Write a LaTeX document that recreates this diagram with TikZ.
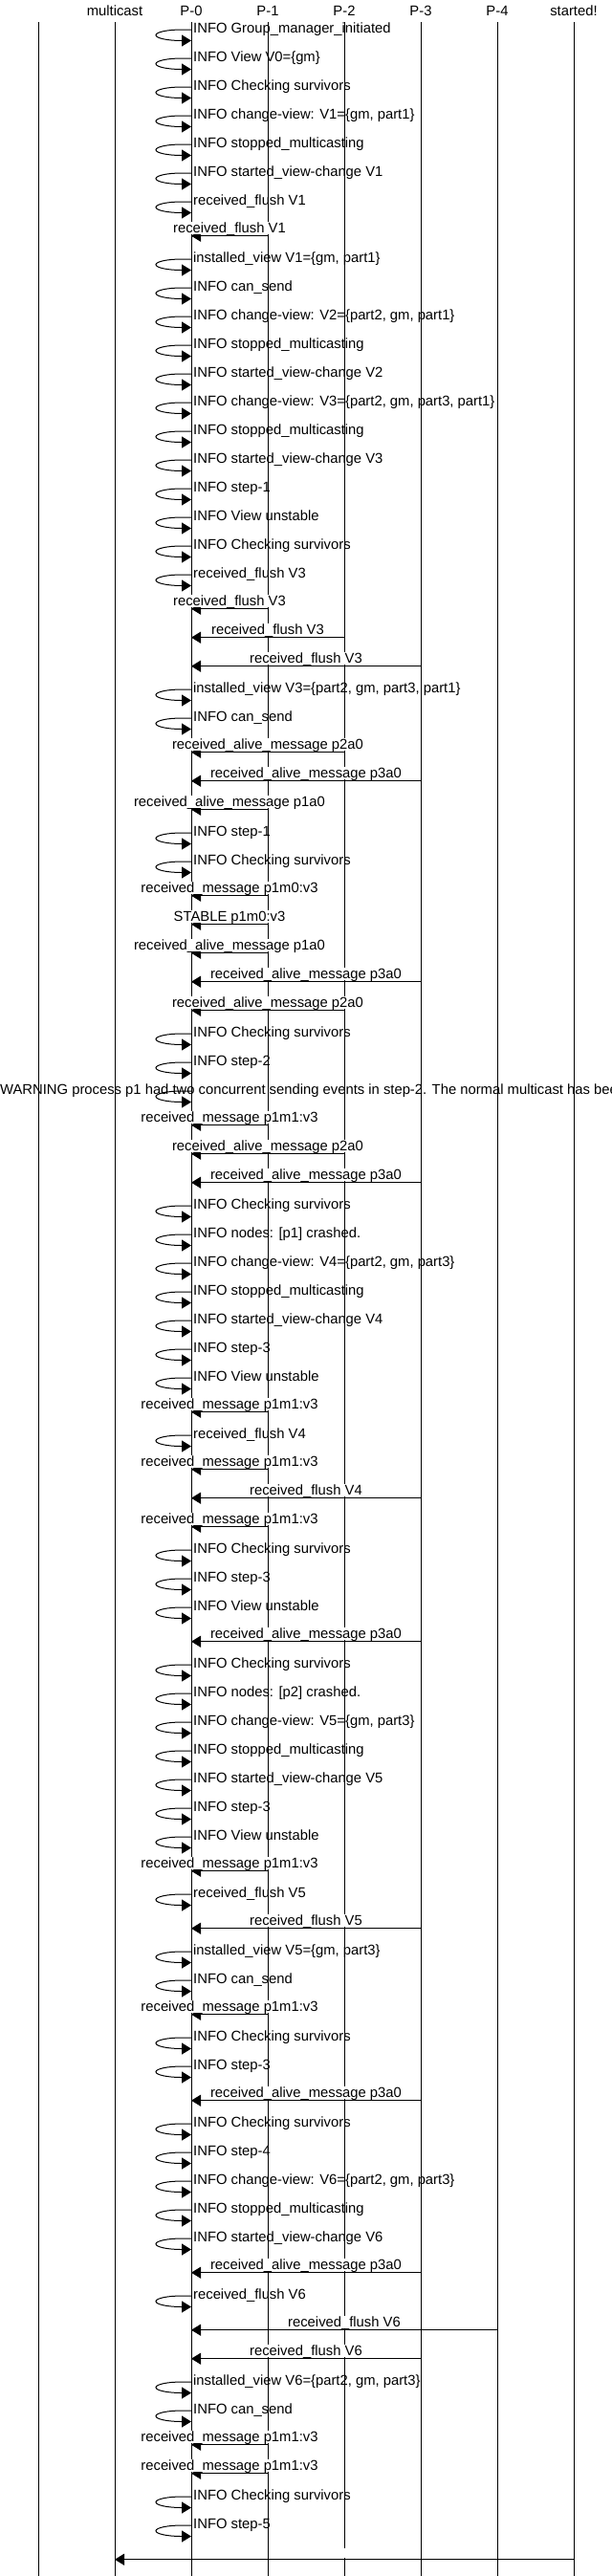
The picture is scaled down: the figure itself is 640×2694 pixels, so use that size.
\documentclass[tikz,border=0pt]{standalone}
\usepackage{fontspec}
\setmainfont{Liberation Sans}
\usetikzlibrary{arrows.meta,calc}
\newcommand\selfrow[2]{%
  \pgfmathsetmacro\rowt{31+30*(#1-1)}%
  \coordinate (t#1) at (0,\rowt);
  \coordinate (b#1) at (0,\rowt+11.5);
  \draw[arc] (P0 |- t#1) -- (190,\rowt) .. controls (175.1,\rowt) and (163,\rowt+2.57) .. (163,\rowt+5.75) .. controls (163,\rowt+8.93) and (175.1,\rowt+11.5) .. (190,\rowt+11.5) -- (P0 |- b#1);
  \node[selflabel] (l#1) at ($(P0 |- t#1)+(2,3.3)$) {#2};
}
\newcommand\msgrow[3]{%
  \pgfmathsetmacro\rowt{31+30*(#1-1)}%
  \coordinate (t#1) at (0,\rowt);
  \coordinate (m#1) at (0,\rowt+5.7);
  \draw[arc] (#2 |- m#1) -- (P0 |- m#1);
  \node[msglabel] (l#1) at ($(#2 |- t#1)!0.5!(P0 |- t#1)+(0,2.3)$) {#3};
}
\begin{document}
\begin{tikzpicture}[x=1pt,y=-1pt,
  every node/.style={font=\fontsize{14.8}{17}\selectfont},
  life/.style={line width=1pt},
  arc/.style={line width=1pt,-{Triangle[length=10pt,width=12pt]}},
  selflabel/.style={anchor=base west,inner sep=0pt},
  msglabel/.style={anchor=base,fill=white,inner xsep=1pt,inner ysep=0pt,text height=11pt,text depth=1.7pt},
  head/.style={anchor=base,inner sep=0pt}]
\useasboundingbox (0,0) rectangle (640,2694);
\fill[white] (0,0) rectangle (640,2694);
% entities
\coordinate (E0) at (40,16.5);
\node[head] (MC) at (120,16.5) {multicast};
\node[head] (P0) at (200,16.5) {P-0};
\node[head] (P1) at (280,16.5) {P-1};
\node[head] (P2) at (360,16.5) {P-2};
\node[head] (P3) at (440,16.5) {P-3};
\node[head] (P4) at (520,16.5) {P-4};
\node[head] (ST) at (600,16.5) {started!};
\coordinate (top) at (0,23.3);
\coordinate (bot) at (0,2694);
\coordinate (gapA) at (0,2665);
\coordinate (gapB) at (0,2675);
\foreach \n in {E0,MC,P0,P1,P3,P4,ST} \draw[life] (\n |- top) -- (\n |- bot);
\draw[life] (P2 |- top) -- (P2 |- gapA);
\draw[life] (P2 |- gapB) -- (P2 |- bot);
% rows
\selfrow{1}{INFO Group\_manager\_initiated}
\selfrow{2}{INFO View V0=\{gm\}}
\selfrow{3}{INFO Checking survivors}
\selfrow{4}{INFO change-view: V1=\{gm, part1\}}
\selfrow{5}{INFO stopped\_multicasting}
\selfrow{6}{INFO started\_view-change V1}
\selfrow{7}{received\_flush V1}
\msgrow{8}{P1}{received\_flush V1}
\selfrow{9}{installed\_view V1=\{gm, part1\}}
\selfrow{10}{INFO can\_send}
\selfrow{11}{INFO change-view: V2=\{part2, gm, part1\}}
\selfrow{12}{INFO stopped\_multicasting}
\selfrow{13}{INFO started\_view-change V2}
\selfrow{14}{INFO change-view: V3=\{part2, gm, part3, part1\}}
\selfrow{15}{INFO stopped\_multicasting}
\selfrow{16}{INFO started\_view-change V3}
\selfrow{17}{INFO step-1}
\selfrow{18}{INFO View unstable}
\selfrow{19}{INFO Checking survivors}
\selfrow{20}{received\_flush V3}
\msgrow{21}{P1}{received\_flush V3}
\msgrow{22}{P2}{received\_flush V3}
\msgrow{23}{P3}{received\_flush V3}
\selfrow{24}{installed\_view V3=\{part2, gm, part3, part1\}}
\selfrow{25}{INFO can\_send}
\msgrow{26}{P2}{received\_alive\_message p2a0}
\msgrow{27}{P3}{received\_alive\_message p3a0}
\msgrow{28}{P1}{received\_alive\_message p1a0}
\selfrow{29}{INFO step-1}
\selfrow{30}{INFO Checking survivors}
\msgrow{31}{P1}{received\_message p1m0:v3}
\msgrow{32}{P1}{STABLE p1m0:v3}
\msgrow{33}{P1}{received\_alive\_message p1a0}
\msgrow{34}{P3}{received\_alive\_message p3a0}
\msgrow{35}{P2}{received\_alive\_message p2a0}
\selfrow{36}{INFO Checking survivors}
\selfrow{37}{INFO step-2}
\pgfmathsetmacro\rowt{31+30*37}
\coordinate (t38) at (0,\rowt);
\coordinate (b38) at (0,\rowt+11.5);
\draw[arc] (P0 |- t38) -- (190,\rowt) .. controls (175.1,\rowt) and (163,\rowt+2.57) .. (163,\rowt+5.75) .. controls (163,\rowt+8.93) and (175.1,\rowt+11.5) .. (190,\rowt+11.5) -- (P0 |- b38);
\node[selflabel] (l38) at (0,\rowt+3.3) {WARNING process p1 had two concurrent sending events in step-2. The normal multicast has bee};
\msgrow{39}{P1}{received\_message p1m1:v3}
\msgrow{40}{P2}{received\_alive\_message p2a0}
\msgrow{41}{P3}{received\_alive\_message p3a0}
\selfrow{42}{INFO Checking survivors}
\selfrow{43}{INFO nodes: [p1] crashed.}
\selfrow{44}{INFO change-view: V4=\{part2, gm, part3\}}
\selfrow{45}{INFO stopped\_multicasting}
\selfrow{46}{INFO started\_view-change V4}
\selfrow{47}{INFO step-3}
\selfrow{48}{INFO View unstable}
\msgrow{49}{P1}{received\_message p1m1:v3}
\selfrow{50}{received\_flush V4}
\msgrow{51}{P1}{received\_message p1m1:v3}
\msgrow{52}{P3}{received\_flush V4}
\msgrow{53}{P1}{received\_message p1m1:v3}
\selfrow{54}{INFO Checking survivors}
\selfrow{55}{INFO step-3}
\selfrow{56}{INFO View unstable}
\msgrow{57}{P3}{received\_alive\_message p3a0}
\selfrow{58}{INFO Checking survivors}
\selfrow{59}{INFO nodes: [p2] crashed.}
\selfrow{60}{INFO change-view: V5=\{gm, part3\}}
\selfrow{61}{INFO stopped\_multicasting}
\selfrow{62}{INFO started\_view-change V5}
\selfrow{63}{INFO step-3}
\selfrow{64}{INFO View unstable}
\msgrow{65}{P1}{received\_message p1m1:v3}
\selfrow{66}{received\_flush V5}
\msgrow{67}{P3}{received\_flush V5}
\selfrow{68}{installed\_view V5=\{gm, part3\}}
\selfrow{69}{INFO can\_send}
\msgrow{70}{P1}{received\_message p1m1:v3}
\selfrow{71}{INFO Checking survivors}
\selfrow{72}{INFO step-3}
\msgrow{73}{P3}{received\_alive\_message p3a0}
\selfrow{74}{INFO Checking survivors}
\selfrow{75}{INFO step-4}
\selfrow{76}{INFO change-view: V6=\{part2, gm, part3\}}
\selfrow{77}{INFO stopped\_multicasting}
\selfrow{78}{INFO started\_view-change V6}
\msgrow{79}{P3}{received\_alive\_message p3a0}
\selfrow{80}{received\_flush V6}
\msgrow{81}{P4}{received\_flush V6}
\msgrow{82}{P3}{received\_flush V6}
\selfrow{83}{installed\_view V6=\{part2, gm, part3\}}
\selfrow{84}{INFO can\_send}
\msgrow{85}{P1}{received\_message p1m1:v3}
\msgrow{86}{P1}{received\_message p1m1:v3}
\selfrow{87}{INFO Checking survivors}
\selfrow{88}{INFO step-5}
\coordinate (m89) at (0,2676.7);
\draw[arc] (ST |- m89) -- (MC |- m89);
\end{tikzpicture}
\end{document}
